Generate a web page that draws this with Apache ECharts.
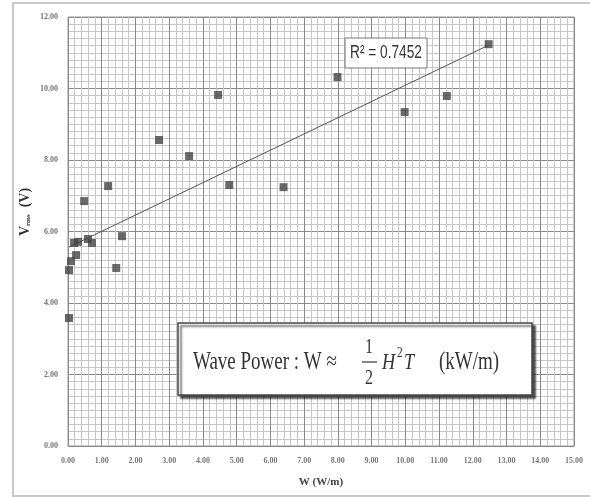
<!DOCTYPE html>
<html>
<head>
<meta charset="utf-8">
<script src="https://cdn.jsdelivr.net/npm/echarts@6/dist/echarts.min.js"></script>
<style>
  html, body { margin: 0; padding: 0; background: #fff; }
  #main { width: 590px; height: 497px; }
</style>
</head>
<body>
<div id="main"></div>
<script>
// wave power W (W/m) vs Vrms (V)
const powerW = [0.03, 0.03, 0.09, 0.24, 0.18, 0.30, 0.59, 0.71, 1.43, 1.60, 0.48,
                1.19, 2.70, 3.59, 4.45, 4.78, 6.39, 7.99, 9.98, 11.23, 12.47];
const vrms   = [3.58, 4.92, 5.17, 5.34, 5.68, 5.71, 5.79, 5.68, 4.98, 5.87, 6.85,
                7.27, 8.56, 8.11, 9.82, 7.30, 7.24, 10.32, 9.34, 9.79, 11.24];
const r2Text = 'R\u00b2 = 0.7452';

const chart = echarts.init(document.getElementById('main'));

const points = powerW.map((x, i) => [x, vrms[i]]);

// linear trendline (least squares)
const n = powerW.length;
const mx = powerW.reduce((a, b) => a + b, 0) / n;
const my = vrms.reduce((a, b) => a + b, 0) / n;
let sxy = 0, sxx = 0;
for (let i = 0; i < n; i++) {
  sxy += (powerW[i] - mx) * (vrms[i] - my);
  sxx += (powerW[i] - mx) * (powerW[i] - mx);
}
const slope = sxy / sxx;
const icpt = my - slope * mx;
const xMin = Math.min(...powerW), xMax = Math.max(...powerW);
const trend = [[xMin, icpt + slope * xMin], [xMax, icpt + slope * xMax]];

const serif = '"Liberation Serif", "DejaVu Serif", serif';
const sq = 0.76; // the original text looks squeezed sideways

const option = {
  backgroundColor: '#fff',
  animation: false,
  grid: { left: 68, right: 16, top: 17, bottom: 51, show: true, borderColor: '#999', borderWidth: 1 },
  xAxis: {
    type: 'value', min: 0, max: 15, interval: 1,
    name: 'W (W/m)', nameLocation: 'middle', nameGap: 31,
    nameTextStyle: { fontFamily: serif, fontWeight: 'bold', fontSize: 11, color: '#444' },
    axisLine: { show: false }, axisTick: { show: false },
    axisLabel: { formatter: v => v.toFixed(2), fontSize: 8, fontWeight: 'bold', color: '#777', margin: 11, fontFamily: serif },
    splitLine: { show: true, lineStyle: { color: '#8a8a8a', width: 1 } },
    minorTick: { show: false, splitNumber: 5 },
    minorSplitLine: { show: true, lineStyle: { color: '#c6c6c6', width: 1 } }
  },
  yAxis: {
    type: 'value', min: 0, max: 12, interval: 2,
    axisLine: { show: false }, axisTick: { show: false },
    axisLabel: { formatter: v => v.toFixed(2), fontSize: 8, fontWeight: 'bold', color: '#777', margin: 10, fontFamily: serif },
    splitLine: { show: true, lineStyle: { color: '#8a8a8a', width: 1 } },
    minorTick: { show: false, splitNumber: 10 },
    minorSplitLine: { show: true, lineStyle: { color: '#c6c6c6', width: 1 } }
  },
  series: [
    {
      type: 'scatter', data: points, symbol: 'rect', symbolSize: 8,
      itemStyle: { color: '#444' }, z: 3
    },
    {
      type: 'line', data: trend, showSymbol: false, symbol: 'none',
      lineStyle: { color: '#555', width: 1 }, z: 2
    }
  ],
  graphic: [
    // outer frame
    { type: 'rect', z: 0, silent: true, shape: { x: 13, y: 3, width: 600, height: 493 },
      style: { fill: 'none', stroke: '#c8c8c8', lineWidth: 2 } },
    // y axis title, rotated
    { type: 'text', z: 101, x: 25, y: 212, rotation: Math.PI / 2,
      style: {
        text: '{a|V}{b|rms}{a|  (V)}', align: 'center', verticalAlign: 'middle',
        rich: {
          a: { fontFamily: serif, fontWeight: 'bold', fontSize: 14, fill: '#333' },
          b: { fontFamily: serif, fontWeight: 'bold', fontSize: 7, fill: '#333', padding: [7, 0, 0, 0] }
        }
      } },
    // R2 box
    { type: 'rect', z: 100, shape: { x: 345, y: 38, width: 82, height: 30 },
      style: { fill: '#fff', stroke: '#777', lineWidth: 1 } },
    { type: 'text', z: 101, x: 350, y: 53, scaleX: 0.72,
      style: { text: r2Text, fontSize: 19, fontFamily: '"Liberation Sans", Arial, sans-serif', fill: '#333', verticalAlign: 'middle', align: 'left' } },
    // wave power formula box
    { type: 'rect', z: 100, shape: { x: 178, y: 323, width: 354, height: 72 },
      style: { fill: '#fff', stroke: '#444', lineWidth: 1.5, shadowColor: 'rgba(0,0,0,0.65)', shadowBlur: 2, shadowOffsetX: 3, shadowOffsetY: 3 } },
    { type: 'text', z: 101, x: 193, y: 362, scaleX: sq,
      style: { text: 'Wave Power : W \u2248', fontSize: 25, fontFamily: serif, fill: '#333', verticalAlign: 'middle', align: 'left' } },
    { type: 'text', z: 101, x: 369, y: 347, scaleX: sq,
      style: { text: '1', fontSize: 21, fontFamily: serif, fill: '#333', verticalAlign: 'middle', align: 'center' } },
    { type: 'line', z: 101, shape: { x1: 362, y1: 362, x2: 377, y2: 362 }, style: { stroke: '#333', lineWidth: 1.2 } },
    { type: 'text', z: 101, x: 369, y: 378, scaleX: sq,
      style: { text: '2', fontSize: 21, fontFamily: serif, fill: '#333', verticalAlign: 'middle', align: 'center' } },
    { type: 'text', z: 101, x: 382, y: 363, scaleX: sq,
      style: { text: 'H', fontSize: 24, fontStyle: 'italic', fontFamily: serif, fill: '#333', verticalAlign: 'middle', align: 'left' } },
    { type: 'text', z: 101, x: 397, y: 353, scaleX: sq,
      style: { text: '2', fontSize: 15, fontFamily: serif, fill: '#333', verticalAlign: 'middle', align: 'left' } },
    { type: 'text', z: 101, x: 404, y: 363, scaleX: sq,
      style: { text: 'T', fontSize: 24, fontStyle: 'italic', fontFamily: serif, fill: '#333', verticalAlign: 'middle', align: 'left' } },
    { type: 'text', z: 101, x: 439, y: 362, scaleX: sq,
      style: { text: '(kW/m)', fontSize: 25, fontFamily: serif, fill: '#333', verticalAlign: 'middle', align: 'left' } }
  ]
};

chart.setOption(option);
</script>
</body>
</html>
